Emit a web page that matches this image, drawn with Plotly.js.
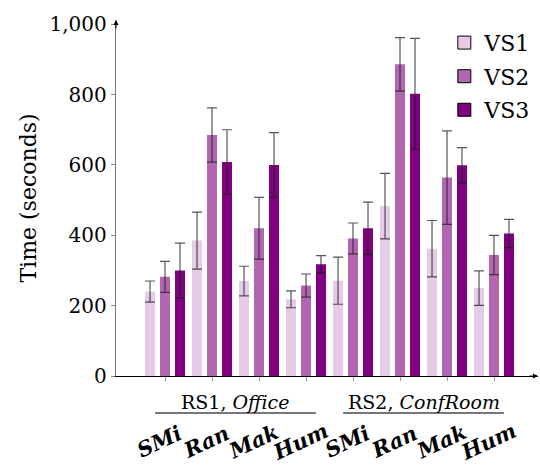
<!DOCTYPE html>
<html>
<head>
<meta charset="utf-8">
<script src="https://cdn.plot.ly/plotly-3.0.1.min.js"></script>
<style>html,body{margin:0;padding:0;background:#fff;}#chart{width:540px;height:467px;}</style>
</head>
<body>
<div id="chart"></div>
<script>
const methods = ['SMi', 'Ran', 'Mak', 'Hum'];
const rooms = ['RS1', 'RS2'];
const roomLabels = ['RS1, <i>Office</i>', 'RS2, <i>ConfRoom</i>'];
const series = ['VS1', 'VS2', 'VS3'];
const vs1 = [240, 385, 270, 218, 271, 483, 362, 250];
const vs1Err = [30, 81, 42, 24, 67, 93, 80, 49];
const vs2 = [282, 685, 420, 257, 391, 886, 564, 344];
const vs2Err = [44, 77, 88, 33, 44, 76, 133, 56];
const vs3 = [300, 608, 600, 318, 420, 802, 599, 405];
const vs3Err = [78, 92, 92, 24, 74, 158, 50, 40];
const colors = ['#e6cbe6', '#b266b2', '#800080'];
const yTitle = 'Time (seconds)';

const FONT = "DejaVu Serif";
const cats = [];
const catLabels = [];
rooms.forEach(r => methods.forEach(m => { cats.push(r + ' ' + m); catLabels.push(m); }));

const vals = [vs1, vs2, vs3];
const errs = [vs1Err, vs2Err, vs3Err];
const traces = [];
series.forEach((s, i) => {
  traces.push({
    type: 'bar', x: cats, y: vals[i], name: s, showlegend: false,
    marker: {color: colors[i], line: {width: 0}},
    error_y: {type: 'data', array: errs[i], visible: true, color: 'rgba(30,30,30,0.75)', thickness: 1.2, width: 5}
  });
});
series.forEach((s, i) => {
  traces.push({
    type: 'scatter', mode: 'markers', x: [null], y: [null], name: s, showlegend: true,
    legendgroup: 'g' + i,
    marker: {symbol: 'square', size: 13, color: colors[i], line: {color: '#000', width: 1}}
  });
});

const annotations = [];
cats.forEach((c, i) => {
  annotations.push({
    xref: 'x', yref: 'paper', x: c, y: -0.183, xanchor: 'center', yanchor: 'middle', xshift: -6,
    text: catLabels[i], showarrow: false, textangle: -25,
    font: {family: FONT, size: 21, color: '#000', weight: 'bold', style: 'italic'}
  });
});
rooms.forEach((r, k) => {
  annotations.push({
    xref: 'x', yref: 'paper', x: k * methods.length + (methods.length - 1) / 2, y: -0.073,
    xanchor: 'center', yanchor: 'middle', text: roomLabels[k], showarrow: false,
    font: {family: FONT, size: 19, color: '#000'}
  });
});
annotations.push({xref: 'paper', yref: 'y', x: 1, y: 0, ax: -10, ay: 0, text: '', showarrow: true,
  arrowhead: 2, arrowsize: 1, arrowwidth: 1, arrowcolor: '#000'});
annotations.push({xref: 'paper', yref: 'paper', x: 0, y: 1, ax: 0, ay: 10, text: '', showarrow: true,
  arrowhead: 2, arrowsize: 1, arrowwidth: 1, arrowcolor: '#000'});

const shapes = rooms.map((r, k) => ({
  type: 'line', xref: 'x', yref: 'paper',
  x0: k * methods.length - 0.21, x1: k * methods.length + methods.length - 1 + 0.21,
  y0: -0.104, y1: -0.104, line: {color: '#777', width: 2}
}));

const layout = {
  width: 540, height: 467,
  margin: {l: 116, r: 2, t: 20, b: 91},
  paper_bgcolor: '#fff', plot_bgcolor: '#fff',
  barmode: 'group', bargap: 0.043, bargroupgap: 0.333,
  font: {family: FONT, size: 20, color: '#000'},
  xaxis: {
    type: 'category', range: [-1.043, 7.936], showticklabels: false,
    ticks: 'outside', ticklen: 4, tickcolor: '#999', tickwidth: 1,
    showline: true, linecolor: '#000', linewidth: 1, showgrid: false, zeroline: false, fixedrange: true
  },
  yaxis: {
    range: [0, 1012], tickvals: [0, 200, 400, 600, 800, 1000], tickformat: ',d',
    ticks: 'outside', ticklen: 4, tickcolor: '#888', tickwidth: 1,
    showline: true, linecolor: '#777', linewidth: 1.2, showgrid: false, zeroline: false,
    tickfont: {family: FONT, size: 20, color: '#000'},
    title: {text: yTitle, font: {family: FONT, size: 22, color: '#000'}, standoff: 6},
    automargin: false
  },
  legend: {x: 0.778, y: 0.995, xanchor: 'left', yanchor: 'top', bgcolor: 'rgba(0,0,0,0)', borderwidth: 0,
    tracegroupgap: 2, font: {family: FONT, size: 22, color: '#000'}},
  annotations: annotations, shapes: shapes
};

Plotly.newPlot('chart', traces, layout, {staticPlot: true});
</script>
</body>
</html>
